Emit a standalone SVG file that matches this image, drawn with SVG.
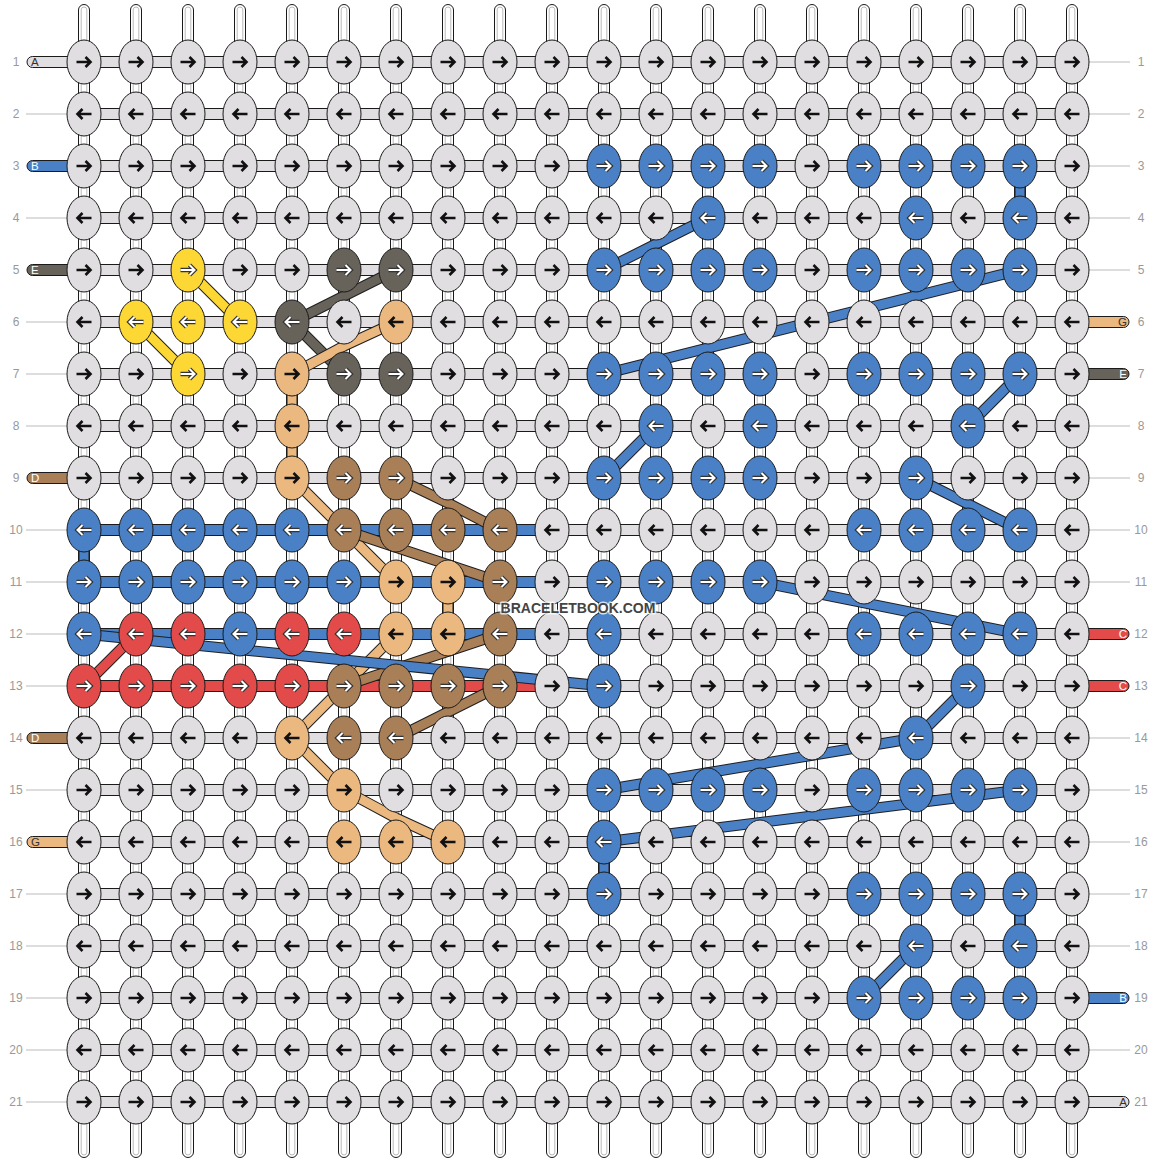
<svg xmlns="http://www.w3.org/2000/svg" xmlns:xlink="http://www.w3.org/1999/xlink" width="1156" height="1164" viewBox="0 0 1156 1164">
<style>
.o{stroke:#1a1a1a;stroke-width:1}
.G{fill:#e1dee1}.B{fill:#4a81c6}.Y{fill:#fdd835}.D{fill:#67635a}.T{fill:#ebb87f}.N{fill:#a97f58}.R{fill:#e34b4b}
.ab{stroke:#111;stroke-width:2.6;fill:none}
.aw1{stroke:#333;stroke-width:4.4;fill:none}
.aw2{stroke:#fff;stroke-width:2;fill:none}
.hb{stroke:#1a1a1a;stroke-width:1}
.tl{stroke:#bbb;stroke-width:1}
.num{font-family:"Liberation Sans",Arial,sans-serif;font-size:12px;fill:#999;text-anchor:middle}
.lt{font-family:"Liberation Sans",Arial,sans-serif;font-size:11.5px}
.co{fill:none;stroke:#1e1e1e;stroke-width:11}
.ci{fill:none;stroke-width:9}
</style>
<defs>
<path id="a" d="M-7.5,0H6M1.5,-5L6.5,0L1.5,5"/>
<path id="b" d="M7.5,0H-6M-1.5,-5L-6.5,0L-1.5,5"/>
<g id="gR"><ellipse class="o G" rx="17" ry="22"/><use href="#a" class="ab"/></g>
<g id="gL"><ellipse class="o G" rx="17" ry="22"/><use href="#b" class="ab"/></g>
<g id="tR"><ellipse class="o T" rx="17" ry="22"/><use href="#a" class="ab"/></g>
<g id="tL"><ellipse class="o T" rx="17" ry="22"/><use href="#b" class="ab"/></g>
<g id="bR"><ellipse class="o B" rx="17" ry="22"/><use href="#a" class="aw1"/><use href="#a" class="aw2"/></g>
<g id="bL"><ellipse class="o B" rx="17" ry="22"/><use href="#b" class="aw1"/><use href="#b" class="aw2"/></g>
<g id="yR"><ellipse class="o Y" rx="17" ry="22"/><use href="#a" class="aw1"/><use href="#a" class="aw2"/></g>
<g id="yL"><ellipse class="o Y" rx="17" ry="22"/><use href="#b" class="aw1"/><use href="#b" class="aw2"/></g>
<g id="dR"><ellipse class="o D" rx="17" ry="22"/><use href="#a" class="aw1"/><use href="#a" class="aw2"/></g>
<g id="dL"><ellipse class="o D" rx="17" ry="22"/><use href="#b" class="aw1"/><use href="#b" class="aw2"/></g>
<g id="nR"><ellipse class="o N" rx="17" ry="22"/><use href="#a" class="aw1"/><use href="#a" class="aw2"/></g>
<g id="nL"><ellipse class="o N" rx="17" ry="22"/><use href="#b" class="aw1"/><use href="#b" class="aw2"/></g>
<g id="rR"><ellipse class="o R" rx="17" ry="22"/><use href="#a" class="aw1"/><use href="#a" class="aw2"/></g>
<g id="rL"><ellipse class="o R" rx="17" ry="22"/><use href="#b" class="aw1"/><use href="#b" class="aw2"/></g>
<g id="vs"><rect x="-5.5" y="4.5" width="11" height="1153" rx="5.5" fill="#fff" stroke="#1a1a1a"/><rect x="-2.8" y="7" width="5.6" height="1148" rx="2.8" fill="none" stroke="#aaa" stroke-width="0.8"/></g>
</defs>
<rect width="1156" height="1164" fill="#fff"/>

<g id="vertical-strands">
<use href="#vs" x="84"/><use href="#vs" x="136"/><use href="#vs" x="188"/><use href="#vs" x="240"/><use href="#vs" x="292"/><use href="#vs" x="344"/><use href="#vs" x="396"/><use href="#vs" x="448"/><use href="#vs" x="500"/><use href="#vs" x="552"/><use href="#vs" x="604"/><use href="#vs" x="656"/><use href="#vs" x="708"/><use href="#vs" x="760"/><use href="#vs" x="812"/><use href="#vs" x="864"/><use href="#vs" x="916"/><use href="#vs" x="968"/><use href="#vs" x="1020"/><use href="#vs" x="1072"/>
</g>

<g id="row-strands">
<rect class="hb G" x="84" y="56.5" width="988" height="11"/>
<rect class="hb G" x="84" y="108.5" width="988" height="11"/>
<rect class="hb G" x="84" y="160.5" width="988" height="11"/>
<rect class="hb G" x="84" y="212.5" width="988" height="11"/>
<rect class="hb G" x="84" y="264.5" width="988" height="11"/>
<rect class="hb G" x="84" y="316.5" width="988" height="11"/>
<rect class="hb G" x="84" y="368.5" width="988" height="11"/>
<rect class="hb G" x="84" y="420.5" width="988" height="11"/>
<rect class="hb G" x="84" y="472.5" width="988" height="11"/>
<rect class="hb G" x="84" y="524.5" width="988" height="11"/>
<rect class="hb G" x="84" y="576.5" width="988" height="11"/>
<rect class="hb G" x="84" y="628.5" width="988" height="11"/>
<rect class="hb G" x="84" y="680.5" width="988" height="11"/>
<rect class="hb G" x="84" y="732.5" width="988" height="11"/>
<rect class="hb G" x="84" y="784.5" width="988" height="11"/>
<rect class="hb G" x="84" y="836.5" width="988" height="11"/>
<rect class="hb G" x="84" y="888.5" width="988" height="11"/>
<rect class="hb G" x="84" y="940.5" width="988" height="11"/>
<rect class="hb G" x="84" y="992.5" width="988" height="11"/>
<rect class="hb G" x="84" y="1044.5" width="988" height="11"/>
<rect class="hb G" x="84" y="1096.5" width="988" height="11"/>
<rect class="hb B" x="84" y="524.5" width="468" height="11"/>
<rect class="hb B" x="84" y="576.5" width="468" height="11"/>
<rect class="hb B" x="84" y="628.5" width="468" height="11"/>
<rect class="hb R" x="84" y="680.5" width="468" height="11"/>
</g>

<g id="left-labels">
<rect class="hb G" x="27" y="56.5" width="50" height="11" rx="5.5"/><text class="lt" x="31" y="66" fill="#333">A</text>
<line class="tl" x1="26" y1="114" x2="67" y2="114"/>
<rect class="hb B" x="27" y="160.5" width="50" height="11" rx="5.5"/><text class="lt" x="31" y="170" fill="#fff">B</text>
<line class="tl" x1="26" y1="218" x2="67" y2="218"/>
<rect class="hb D" x="27" y="264.5" width="50" height="11" rx="5.5"/><text class="lt" x="31" y="274" fill="#fff">E</text>
<line class="tl" x1="26" y1="322" x2="67" y2="322"/>
<line class="tl" x1="26" y1="374" x2="67" y2="374"/>
<line class="tl" x1="26" y1="426" x2="67" y2="426"/>
<rect class="hb N" x="27" y="472.5" width="50" height="11" rx="5.5"/><text class="lt" x="31" y="482" fill="#fff">D</text>
<line class="tl" x1="26" y1="530" x2="67" y2="530"/>
<line class="tl" x1="26" y1="582" x2="67" y2="582"/>
<line class="tl" x1="26" y1="634" x2="67" y2="634"/>
<line class="tl" x1="26" y1="686" x2="67" y2="686"/>
<rect class="hb N" x="27" y="732.5" width="50" height="11" rx="5.5"/><text class="lt" x="31" y="742" fill="#fff">D</text>
<line class="tl" x1="26" y1="790" x2="67" y2="790"/>
<rect class="hb T" x="27" y="836.5" width="50" height="11" rx="5.5"/><text class="lt" x="31" y="846" fill="#333">G</text>
<line class="tl" x1="26" y1="894" x2="67" y2="894"/>
<line class="tl" x1="26" y1="946" x2="67" y2="946"/>
<line class="tl" x1="26" y1="998" x2="67" y2="998"/>
<line class="tl" x1="26" y1="1050" x2="67" y2="1050"/>
<line class="tl" x1="26" y1="1102" x2="67" y2="1102"/>
</g>

<g id="right-labels">
<line class="tl" x1="1089" y1="62" x2="1130" y2="62"/>
<line class="tl" x1="1089" y1="114" x2="1130" y2="114"/>
<line class="tl" x1="1089" y1="166" x2="1130" y2="166"/>
<line class="tl" x1="1089" y1="218" x2="1130" y2="218"/>
<line class="tl" x1="1089" y1="270" x2="1130" y2="270"/>
<rect class="hb T" x="1079" y="316.5" width="50" height="11" rx="5.5"/><text class="lt" x="1127" y="326" fill="#333" text-anchor="end">G</text>
<rect class="hb D" x="1079" y="368.5" width="50" height="11" rx="5.5"/><text class="lt" x="1127" y="378" fill="#fff" text-anchor="end">E</text>
<line class="tl" x1="1089" y1="426" x2="1130" y2="426"/>
<line class="tl" x1="1089" y1="478" x2="1130" y2="478"/>
<line class="tl" x1="1089" y1="530" x2="1130" y2="530"/>
<line class="tl" x1="1089" y1="582" x2="1130" y2="582"/>
<rect class="hb R" x="1079" y="628.5" width="50" height="11" rx="5.5"/><text class="lt" x="1127" y="638" fill="#fff" text-anchor="end">C</text>
<rect class="hb R" x="1079" y="680.5" width="50" height="11" rx="5.5"/><text class="lt" x="1127" y="690" fill="#fff" text-anchor="end">C</text>
<line class="tl" x1="1089" y1="738" x2="1130" y2="738"/>
<line class="tl" x1="1089" y1="790" x2="1130" y2="790"/>
<line class="tl" x1="1089" y1="842" x2="1130" y2="842"/>
<line class="tl" x1="1089" y1="894" x2="1130" y2="894"/>
<line class="tl" x1="1089" y1="946" x2="1130" y2="946"/>
<rect class="hb B" x="1079" y="992.5" width="50" height="11" rx="5.5"/><text class="lt" x="1127" y="1002" fill="#fff" text-anchor="end">B</text>
<line class="tl" x1="1089" y1="1050" x2="1130" y2="1050"/>
<rect class="hb G" x="1079" y="1096.5" width="50" height="11" rx="5.5"/><text class="lt" x="1127" y="1106" fill="#333" text-anchor="end">A</text>
</g>

<g id="row-numbers">
<text class="num" x="16" y="66">1</text><text class="num" x="1141" y="66">1</text>
<text class="num" x="16" y="118">2</text><text class="num" x="1141" y="118">2</text>
<text class="num" x="16" y="170">3</text><text class="num" x="1141" y="170">3</text>
<text class="num" x="16" y="222">4</text><text class="num" x="1141" y="222">4</text>
<text class="num" x="16" y="274">5</text><text class="num" x="1141" y="274">5</text>
<text class="num" x="16" y="326">6</text><text class="num" x="1141" y="326">6</text>
<text class="num" x="16" y="378">7</text><text class="num" x="1141" y="378">7</text>
<text class="num" x="16" y="430">8</text><text class="num" x="1141" y="430">8</text>
<text class="num" x="16" y="482">9</text><text class="num" x="1141" y="482">9</text>
<text class="num" x="16" y="534">10</text><text class="num" x="1141" y="534">10</text>
<text class="num" x="16" y="586">11</text><text class="num" x="1141" y="586">11</text>
<text class="num" x="16" y="638">12</text><text class="num" x="1141" y="638">12</text>
<text class="num" x="16" y="690">13</text><text class="num" x="1141" y="690">13</text>
<text class="num" x="16" y="742">14</text><text class="num" x="1141" y="742">14</text>
<text class="num" x="16" y="794">15</text><text class="num" x="1141" y="794">15</text>
<text class="num" x="16" y="846">16</text><text class="num" x="1141" y="846">16</text>
<text class="num" x="16" y="898">17</text><text class="num" x="1141" y="898">17</text>
<text class="num" x="16" y="950">18</text><text class="num" x="1141" y="950">18</text>
<text class="num" x="16" y="1002">19</text><text class="num" x="1141" y="1002">19</text>
<text class="num" x="16" y="1054">20</text><text class="num" x="1141" y="1054">20</text>
<text class="num" x="16" y="1106">21</text><text class="num" x="1141" y="1106">21</text>
</g>

<g id="connectors">
<g stroke="#fdd835">
<path class="co" d="M188,270L240,322"/><path class="ci" d="M188,270L240,322"/>
<path class="co" d="M136,322L188,374"/><path class="ci" d="M136,322L188,374"/>
</g>
<g stroke="#67635a">
<path class="co" d="M396,270L344,296L292,322"/><path class="ci" d="M396,270L344,296L292,322"/>
<path class="co" d="M292,322L344,374"/><path class="ci" d="M292,322L344,374"/>
</g>
<g stroke="#ebb87f">
<path class="co" d="M396,322L344,346L292,374"/><path class="ci" d="M396,322L344,346L292,374"/>
<path class="co" d="M292,374V478"/><path class="ci" d="M292,374V478"/>
<path class="co" d="M292,478L396,582"/><path class="ci" d="M292,478L396,582"/>
<path class="co" d="M448,582V634"/><path class="ci" d="M448,582V634"/>
<path class="co" d="M396,634L292,738"/><path class="ci" d="M396,634L292,738"/>
<path class="co" d="M292,738L344,790"/><path class="ci" d="M292,738L344,790"/>
<path class="co" d="M344,790L396,818L448,842"/><path class="ci" d="M344,790L396,818L448,842"/>
</g>
<g stroke="#a97f58">
<path class="co" d="M396,478L448,503L500,530"/><path class="ci" d="M396,478L448,503L500,530"/>
<path class="co" d="M344,530L422,556L500,582"/><path class="ci" d="M344,530L422,556L500,582"/>
<path class="co" d="M500,634L422,660L344,686"/><path class="ci" d="M500,634L422,660L344,686"/>
<path class="co" d="M500,686L448,712L396,738"/><path class="ci" d="M500,686L448,712L396,738"/>
</g>
<g stroke="#e34b4b">
<path class="co" d="M136,634L84,686"/><path class="ci" d="M136,634L84,686"/>
</g>
<g stroke="#4a81c6">
<path class="co" d="M1020,166V218"/><path class="ci" d="M1020,166V218"/>
<path class="co" d="M84,530V582"/><path class="ci" d="M84,530V582"/>
<path class="co" d="M604,842V894"/><path class="ci" d="M604,842V894"/>
<path class="co" d="M1020,894V946"/><path class="ci" d="M1020,894V946"/>
<path class="co" d="M604,270L656,244L708,218"/><path class="ci" d="M604,270L656,244L708,218"/>
<path class="co" d="M604,374L1020,270"/><path class="ci" d="M604,374L1020,270"/>
<path class="co" d="M604,478L656,426"/><path class="ci" d="M604,478L656,426"/>
<path class="co" d="M968,426L1020,374"/><path class="ci" d="M968,426L1020,374"/>
<path class="co" d="M916,478L968,504L1020,530"/><path class="ci" d="M916,478L968,504L1020,530"/>
<path class="co" d="M760,582L1020,634"/><path class="ci" d="M760,582L1020,634"/>
<path class="co" d="M84,634L604,686"/><path class="ci" d="M84,634L604,686"/>
<path class="co" d="M968,686L916,738"/><path class="ci" d="M968,686L916,738"/>
<path class="co" d="M916,738L604,790"/><path class="ci" d="M916,738L604,790"/>
<path class="co" d="M1020,790L604,842"/><path class="ci" d="M1020,790L604,842"/>
<path class="co" d="M916,946L864,998"/><path class="ci" d="M916,946L864,998"/>
</g>
</g>

<g id="knots">
<g id="r1" transform="translate(0,62)"><use id="k1-1" href="#gR" x="84"/><use id="k1-2" href="#gR" x="136"/><use id="k1-3" href="#gR" x="188"/><use id="k1-4" href="#gR" x="240"/><use id="k1-5" href="#gR" x="292"/><use id="k1-6" href="#gR" x="344"/><use id="k1-7" href="#gR" x="396"/><use id="k1-8" href="#gR" x="448"/><use id="k1-9" href="#gR" x="500"/><use id="k1-10" href="#gR" x="552"/><use id="k1-11" href="#gR" x="604"/><use id="k1-12" href="#gR" x="656"/><use id="k1-13" href="#gR" x="708"/><use id="k1-14" href="#gR" x="760"/><use id="k1-15" href="#gR" x="812"/><use id="k1-16" href="#gR" x="864"/><use id="k1-17" href="#gR" x="916"/><use id="k1-18" href="#gR" x="968"/><use id="k1-19" href="#gR" x="1020"/><use id="k1-20" href="#gR" x="1072"/></g>
<g id="r2" transform="translate(0,114)"><use id="k2-1" href="#gL" x="84"/><use id="k2-2" href="#gL" x="136"/><use id="k2-3" href="#gL" x="188"/><use id="k2-4" href="#gL" x="240"/><use id="k2-5" href="#gL" x="292"/><use id="k2-6" href="#gL" x="344"/><use id="k2-7" href="#gL" x="396"/><use id="k2-8" href="#gL" x="448"/><use id="k2-9" href="#gL" x="500"/><use id="k2-10" href="#gL" x="552"/><use id="k2-11" href="#gL" x="604"/><use id="k2-12" href="#gL" x="656"/><use id="k2-13" href="#gL" x="708"/><use id="k2-14" href="#gL" x="760"/><use id="k2-15" href="#gL" x="812"/><use id="k2-16" href="#gL" x="864"/><use id="k2-17" href="#gL" x="916"/><use id="k2-18" href="#gL" x="968"/><use id="k2-19" href="#gL" x="1020"/><use id="k2-20" href="#gL" x="1072"/></g>
<g id="r3" transform="translate(0,166)"><use id="k3-1" href="#gR" x="84"/><use id="k3-2" href="#gR" x="136"/><use id="k3-3" href="#gR" x="188"/><use id="k3-4" href="#gR" x="240"/><use id="k3-5" href="#gR" x="292"/><use id="k3-6" href="#gR" x="344"/><use id="k3-7" href="#gR" x="396"/><use id="k3-8" href="#gR" x="448"/><use id="k3-9" href="#gR" x="500"/><use id="k3-10" href="#gR" x="552"/><use id="k3-11" href="#bR" x="604"/><use id="k3-12" href="#bR" x="656"/><use id="k3-13" href="#bR" x="708"/><use id="k3-14" href="#bR" x="760"/><use id="k3-15" href="#gR" x="812"/><use id="k3-16" href="#bR" x="864"/><use id="k3-17" href="#bR" x="916"/><use id="k3-18" href="#bR" x="968"/><use id="k3-19" href="#bR" x="1020"/><use id="k3-20" href="#gR" x="1072"/></g>
<g id="r4" transform="translate(0,218)"><use id="k4-1" href="#gL" x="84"/><use id="k4-2" href="#gL" x="136"/><use id="k4-3" href="#gL" x="188"/><use id="k4-4" href="#gL" x="240"/><use id="k4-5" href="#gL" x="292"/><use id="k4-6" href="#gL" x="344"/><use id="k4-7" href="#gL" x="396"/><use id="k4-8" href="#gL" x="448"/><use id="k4-9" href="#gL" x="500"/><use id="k4-10" href="#gL" x="552"/><use id="k4-11" href="#gL" x="604"/><use id="k4-12" href="#gL" x="656"/><use id="k4-13" href="#bL" x="708"/><use id="k4-14" href="#gL" x="760"/><use id="k4-15" href="#gL" x="812"/><use id="k4-16" href="#gL" x="864"/><use id="k4-17" href="#bL" x="916"/><use id="k4-18" href="#gL" x="968"/><use id="k4-19" href="#bL" x="1020"/><use id="k4-20" href="#gL" x="1072"/></g>
<g id="r5" transform="translate(0,270)"><use id="k5-1" href="#gR" x="84"/><use id="k5-2" href="#gR" x="136"/><use id="k5-3" href="#yR" x="188"/><use id="k5-4" href="#gR" x="240"/><use id="k5-5" href="#gR" x="292"/><use id="k5-6" href="#dR" x="344"/><use id="k5-7" href="#dR" x="396"/><use id="k5-8" href="#gR" x="448"/><use id="k5-9" href="#gR" x="500"/><use id="k5-10" href="#gR" x="552"/><use id="k5-11" href="#bR" x="604"/><use id="k5-12" href="#bR" x="656"/><use id="k5-13" href="#bR" x="708"/><use id="k5-14" href="#bR" x="760"/><use id="k5-15" href="#gR" x="812"/><use id="k5-16" href="#bR" x="864"/><use id="k5-17" href="#bR" x="916"/><use id="k5-18" href="#bR" x="968"/><use id="k5-19" href="#bR" x="1020"/><use id="k5-20" href="#gR" x="1072"/></g>
<g id="r6" transform="translate(0,322)"><use id="k6-1" href="#gL" x="84"/><use id="k6-2" href="#yL" x="136"/><use id="k6-3" href="#yL" x="188"/><use id="k6-4" href="#yL" x="240"/><use id="k6-5" href="#dL" x="292"/><use id="k6-6" href="#gL" x="344"/><use id="k6-7" href="#tL" x="396"/><use id="k6-8" href="#gL" x="448"/><use id="k6-9" href="#gL" x="500"/><use id="k6-10" href="#gL" x="552"/><use id="k6-11" href="#gL" x="604"/><use id="k6-12" href="#gL" x="656"/><use id="k6-13" href="#gL" x="708"/><use id="k6-14" href="#gL" x="760"/><use id="k6-15" href="#gL" x="812"/><use id="k6-16" href="#gL" x="864"/><use id="k6-17" href="#gL" x="916"/><use id="k6-18" href="#gL" x="968"/><use id="k6-19" href="#gL" x="1020"/><use id="k6-20" href="#gL" x="1072"/></g>
<g id="r7" transform="translate(0,374)"><use id="k7-1" href="#gR" x="84"/><use id="k7-2" href="#gR" x="136"/><use id="k7-3" href="#yR" x="188"/><use id="k7-4" href="#gR" x="240"/><use id="k7-5" href="#tR" x="292"/><use id="k7-6" href="#dR" x="344"/><use id="k7-7" href="#dR" x="396"/><use id="k7-8" href="#gR" x="448"/><use id="k7-9" href="#gR" x="500"/><use id="k7-10" href="#gR" x="552"/><use id="k7-11" href="#bR" x="604"/><use id="k7-12" href="#bR" x="656"/><use id="k7-13" href="#bR" x="708"/><use id="k7-14" href="#bR" x="760"/><use id="k7-15" href="#gR" x="812"/><use id="k7-16" href="#bR" x="864"/><use id="k7-17" href="#bR" x="916"/><use id="k7-18" href="#bR" x="968"/><use id="k7-19" href="#bR" x="1020"/><use id="k7-20" href="#gR" x="1072"/></g>
<g id="r8" transform="translate(0,426)"><use id="k8-1" href="#gL" x="84"/><use id="k8-2" href="#gL" x="136"/><use id="k8-3" href="#gL" x="188"/><use id="k8-4" href="#gL" x="240"/><use id="k8-5" href="#tL" x="292"/><use id="k8-6" href="#gL" x="344"/><use id="k8-7" href="#gL" x="396"/><use id="k8-8" href="#gL" x="448"/><use id="k8-9" href="#gL" x="500"/><use id="k8-10" href="#gL" x="552"/><use id="k8-11" href="#gL" x="604"/><use id="k8-12" href="#bL" x="656"/><use id="k8-13" href="#gL" x="708"/><use id="k8-14" href="#bL" x="760"/><use id="k8-15" href="#gL" x="812"/><use id="k8-16" href="#gL" x="864"/><use id="k8-17" href="#gL" x="916"/><use id="k8-18" href="#bL" x="968"/><use id="k8-19" href="#gL" x="1020"/><use id="k8-20" href="#gL" x="1072"/></g>
<g id="r9" transform="translate(0,478)"><use id="k9-1" href="#gR" x="84"/><use id="k9-2" href="#gR" x="136"/><use id="k9-3" href="#gR" x="188"/><use id="k9-4" href="#gR" x="240"/><use id="k9-5" href="#tR" x="292"/><use id="k9-6" href="#nR" x="344"/><use id="k9-7" href="#nR" x="396"/><use id="k9-8" href="#gR" x="448"/><use id="k9-9" href="#gR" x="500"/><use id="k9-10" href="#gR" x="552"/><use id="k9-11" href="#bR" x="604"/><use id="k9-12" href="#bR" x="656"/><use id="k9-13" href="#bR" x="708"/><use id="k9-14" href="#bR" x="760"/><use id="k9-15" href="#gR" x="812"/><use id="k9-16" href="#gR" x="864"/><use id="k9-17" href="#bR" x="916"/><use id="k9-18" href="#gR" x="968"/><use id="k9-19" href="#gR" x="1020"/><use id="k9-20" href="#gR" x="1072"/></g>
<g id="r10" transform="translate(0,530)"><use id="k10-1" href="#bL" x="84"/><use id="k10-2" href="#bL" x="136"/><use id="k10-3" href="#bL" x="188"/><use id="k10-4" href="#bL" x="240"/><use id="k10-5" href="#bL" x="292"/><use id="k10-6" href="#nL" x="344"/><use id="k10-7" href="#nL" x="396"/><use id="k10-8" href="#nL" x="448"/><use id="k10-9" href="#nL" x="500"/><use id="k10-10" href="#gL" x="552"/><use id="k10-11" href="#gL" x="604"/><use id="k10-12" href="#gL" x="656"/><use id="k10-13" href="#gL" x="708"/><use id="k10-14" href="#gL" x="760"/><use id="k10-15" href="#gL" x="812"/><use id="k10-16" href="#bL" x="864"/><use id="k10-17" href="#bL" x="916"/><use id="k10-18" href="#bL" x="968"/><use id="k10-19" href="#bL" x="1020"/><use id="k10-20" href="#gL" x="1072"/></g>
<g id="r11" transform="translate(0,582)"><use id="k11-1" href="#bR" x="84"/><use id="k11-2" href="#bR" x="136"/><use id="k11-3" href="#bR" x="188"/><use id="k11-4" href="#bR" x="240"/><use id="k11-5" href="#bR" x="292"/><use id="k11-6" href="#bR" x="344"/><use id="k11-7" href="#tR" x="396"/><use id="k11-8" href="#tR" x="448"/><use id="k11-9" href="#nR" x="500"/><use id="k11-10" href="#gR" x="552"/><use id="k11-11" href="#bR" x="604"/><use id="k11-12" href="#bR" x="656"/><use id="k11-13" href="#bR" x="708"/><use id="k11-14" href="#bR" x="760"/><use id="k11-15" href="#gR" x="812"/><use id="k11-16" href="#gR" x="864"/><use id="k11-17" href="#gR" x="916"/><use id="k11-18" href="#gR" x="968"/><use id="k11-19" href="#gR" x="1020"/><use id="k11-20" href="#gR" x="1072"/></g>
<g id="r12" transform="translate(0,634)"><use id="k12-1" href="#bL" x="84"/><use id="k12-2" href="#rL" x="136"/><use id="k12-3" href="#rL" x="188"/><use id="k12-4" href="#bL" x="240"/><use id="k12-5" href="#rL" x="292"/><use id="k12-6" href="#rL" x="344"/><use id="k12-7" href="#tL" x="396"/><use id="k12-8" href="#tL" x="448"/><use id="k12-9" href="#nL" x="500"/><use id="k12-10" href="#gL" x="552"/><use id="k12-11" href="#bL" x="604"/><use id="k12-12" href="#gL" x="656"/><use id="k12-13" href="#gL" x="708"/><use id="k12-14" href="#gL" x="760"/><use id="k12-15" href="#gL" x="812"/><use id="k12-16" href="#bL" x="864"/><use id="k12-17" href="#bL" x="916"/><use id="k12-18" href="#bL" x="968"/><use id="k12-19" href="#bL" x="1020"/><use id="k12-20" href="#gL" x="1072"/></g>
<g id="r13" transform="translate(0,686)"><use id="k13-1" href="#rR" x="84"/><use id="k13-2" href="#rR" x="136"/><use id="k13-3" href="#rR" x="188"/><use id="k13-4" href="#rR" x="240"/><use id="k13-5" href="#rR" x="292"/><use id="k13-6" href="#nR" x="344"/><use id="k13-7" href="#nR" x="396"/><use id="k13-8" href="#nR" x="448"/><use id="k13-9" href="#nR" x="500"/><use id="k13-10" href="#gR" x="552"/><use id="k13-11" href="#bR" x="604"/><use id="k13-12" href="#gR" x="656"/><use id="k13-13" href="#gR" x="708"/><use id="k13-14" href="#gR" x="760"/><use id="k13-15" href="#gR" x="812"/><use id="k13-16" href="#gR" x="864"/><use id="k13-17" href="#gR" x="916"/><use id="k13-18" href="#bR" x="968"/><use id="k13-19" href="#gR" x="1020"/><use id="k13-20" href="#gR" x="1072"/></g>
<g id="r14" transform="translate(0,738)"><use id="k14-1" href="#gL" x="84"/><use id="k14-2" href="#gL" x="136"/><use id="k14-3" href="#gL" x="188"/><use id="k14-4" href="#gL" x="240"/><use id="k14-5" href="#tL" x="292"/><use id="k14-6" href="#nL" x="344"/><use id="k14-7" href="#nL" x="396"/><use id="k14-8" href="#gL" x="448"/><use id="k14-9" href="#gL" x="500"/><use id="k14-10" href="#gL" x="552"/><use id="k14-11" href="#gL" x="604"/><use id="k14-12" href="#gL" x="656"/><use id="k14-13" href="#gL" x="708"/><use id="k14-14" href="#gL" x="760"/><use id="k14-15" href="#gL" x="812"/><use id="k14-16" href="#gL" x="864"/><use id="k14-17" href="#bL" x="916"/><use id="k14-18" href="#gL" x="968"/><use id="k14-19" href="#gL" x="1020"/><use id="k14-20" href="#gL" x="1072"/></g>
<g id="r15" transform="translate(0,790)"><use id="k15-1" href="#gR" x="84"/><use id="k15-2" href="#gR" x="136"/><use id="k15-3" href="#gR" x="188"/><use id="k15-4" href="#gR" x="240"/><use id="k15-5" href="#gR" x="292"/><use id="k15-6" href="#tR" x="344"/><use id="k15-7" href="#gR" x="396"/><use id="k15-8" href="#gR" x="448"/><use id="k15-9" href="#gR" x="500"/><use id="k15-10" href="#gR" x="552"/><use id="k15-11" href="#bR" x="604"/><use id="k15-12" href="#bR" x="656"/><use id="k15-13" href="#bR" x="708"/><use id="k15-14" href="#bR" x="760"/><use id="k15-15" href="#gR" x="812"/><use id="k15-16" href="#bR" x="864"/><use id="k15-17" href="#bR" x="916"/><use id="k15-18" href="#bR" x="968"/><use id="k15-19" href="#bR" x="1020"/><use id="k15-20" href="#gR" x="1072"/></g>
<g id="r16" transform="translate(0,842)"><use id="k16-1" href="#gL" x="84"/><use id="k16-2" href="#gL" x="136"/><use id="k16-3" href="#gL" x="188"/><use id="k16-4" href="#gL" x="240"/><use id="k16-5" href="#gL" x="292"/><use id="k16-6" href="#tL" x="344"/><use id="k16-7" href="#tL" x="396"/><use id="k16-8" href="#tL" x="448"/><use id="k16-9" href="#gL" x="500"/><use id="k16-10" href="#gL" x="552"/><use id="k16-11" href="#bL" x="604"/><use id="k16-12" href="#gL" x="656"/><use id="k16-13" href="#gL" x="708"/><use id="k16-14" href="#gL" x="760"/><use id="k16-15" href="#gL" x="812"/><use id="k16-16" href="#gL" x="864"/><use id="k16-17" href="#gL" x="916"/><use id="k16-18" href="#gL" x="968"/><use id="k16-19" href="#gL" x="1020"/><use id="k16-20" href="#gL" x="1072"/></g>
<g id="r17" transform="translate(0,894)"><use id="k17-1" href="#gR" x="84"/><use id="k17-2" href="#gR" x="136"/><use id="k17-3" href="#gR" x="188"/><use id="k17-4" href="#gR" x="240"/><use id="k17-5" href="#gR" x="292"/><use id="k17-6" href="#gR" x="344"/><use id="k17-7" href="#gR" x="396"/><use id="k17-8" href="#gR" x="448"/><use id="k17-9" href="#gR" x="500"/><use id="k17-10" href="#gR" x="552"/><use id="k17-11" href="#bR" x="604"/><use id="k17-12" href="#gR" x="656"/><use id="k17-13" href="#gR" x="708"/><use id="k17-14" href="#gR" x="760"/><use id="k17-15" href="#gR" x="812"/><use id="k17-16" href="#bR" x="864"/><use id="k17-17" href="#bR" x="916"/><use id="k17-18" href="#bR" x="968"/><use id="k17-19" href="#bR" x="1020"/><use id="k17-20" href="#gR" x="1072"/></g>
<g id="r18" transform="translate(0,946)"><use id="k18-1" href="#gL" x="84"/><use id="k18-2" href="#gL" x="136"/><use id="k18-3" href="#gL" x="188"/><use id="k18-4" href="#gL" x="240"/><use id="k18-5" href="#gL" x="292"/><use id="k18-6" href="#gL" x="344"/><use id="k18-7" href="#gL" x="396"/><use id="k18-8" href="#gL" x="448"/><use id="k18-9" href="#gL" x="500"/><use id="k18-10" href="#gL" x="552"/><use id="k18-11" href="#gL" x="604"/><use id="k18-12" href="#gL" x="656"/><use id="k18-13" href="#gL" x="708"/><use id="k18-14" href="#gL" x="760"/><use id="k18-15" href="#gL" x="812"/><use id="k18-16" href="#gL" x="864"/><use id="k18-17" href="#bL" x="916"/><use id="k18-18" href="#gL" x="968"/><use id="k18-19" href="#bL" x="1020"/><use id="k18-20" href="#gL" x="1072"/></g>
<g id="r19" transform="translate(0,998)"><use id="k19-1" href="#gR" x="84"/><use id="k19-2" href="#gR" x="136"/><use id="k19-3" href="#gR" x="188"/><use id="k19-4" href="#gR" x="240"/><use id="k19-5" href="#gR" x="292"/><use id="k19-6" href="#gR" x="344"/><use id="k19-7" href="#gR" x="396"/><use id="k19-8" href="#gR" x="448"/><use id="k19-9" href="#gR" x="500"/><use id="k19-10" href="#gR" x="552"/><use id="k19-11" href="#gR" x="604"/><use id="k19-12" href="#gR" x="656"/><use id="k19-13" href="#gR" x="708"/><use id="k19-14" href="#gR" x="760"/><use id="k19-15" href="#gR" x="812"/><use id="k19-16" href="#bR" x="864"/><use id="k19-17" href="#bR" x="916"/><use id="k19-18" href="#bR" x="968"/><use id="k19-19" href="#bR" x="1020"/><use id="k19-20" href="#gR" x="1072"/></g>
<g id="r20" transform="translate(0,1050)"><use id="k20-1" href="#gL" x="84"/><use id="k20-2" href="#gL" x="136"/><use id="k20-3" href="#gL" x="188"/><use id="k20-4" href="#gL" x="240"/><use id="k20-5" href="#gL" x="292"/><use id="k20-6" href="#gL" x="344"/><use id="k20-7" href="#gL" x="396"/><use id="k20-8" href="#gL" x="448"/><use id="k20-9" href="#gL" x="500"/><use id="k20-10" href="#gL" x="552"/><use id="k20-11" href="#gL" x="604"/><use id="k20-12" href="#gL" x="656"/><use id="k20-13" href="#gL" x="708"/><use id="k20-14" href="#gL" x="760"/><use id="k20-15" href="#gL" x="812"/><use id="k20-16" href="#gL" x="864"/><use id="k20-17" href="#gL" x="916"/><use id="k20-18" href="#gL" x="968"/><use id="k20-19" href="#gL" x="1020"/><use id="k20-20" href="#gL" x="1072"/></g>
<g id="r21" transform="translate(0,1102)"><use id="k21-1" href="#gR" x="84"/><use id="k21-2" href="#gR" x="136"/><use id="k21-3" href="#gR" x="188"/><use id="k21-4" href="#gR" x="240"/><use id="k21-5" href="#gR" x="292"/><use id="k21-6" href="#gR" x="344"/><use id="k21-7" href="#gR" x="396"/><use id="k21-8" href="#gR" x="448"/><use id="k21-9" href="#gR" x="500"/><use id="k21-10" href="#gR" x="552"/><use id="k21-11" href="#gR" x="604"/><use id="k21-12" href="#gR" x="656"/><use id="k21-13" href="#gR" x="708"/><use id="k21-14" href="#gR" x="760"/><use id="k21-15" href="#gR" x="812"/><use id="k21-16" href="#gR" x="864"/><use id="k21-17" href="#gR" x="916"/><use id="k21-18" href="#gR" x="968"/><use id="k21-19" href="#gR" x="1020"/><use id="k21-20" href="#gR" x="1072"/></g>
</g>

<g id="watermark">
<text x="578" y="613" font-family="'Liberation Sans',Arial,sans-serif" font-size="14" font-weight="bold" fill="#444" stroke="#fff" stroke-opacity="0.75" stroke-width="3" stroke-linejoin="round" paint-order="stroke" text-anchor="middle">BRACELETBOOK.COM</text>
</g>
</svg>
